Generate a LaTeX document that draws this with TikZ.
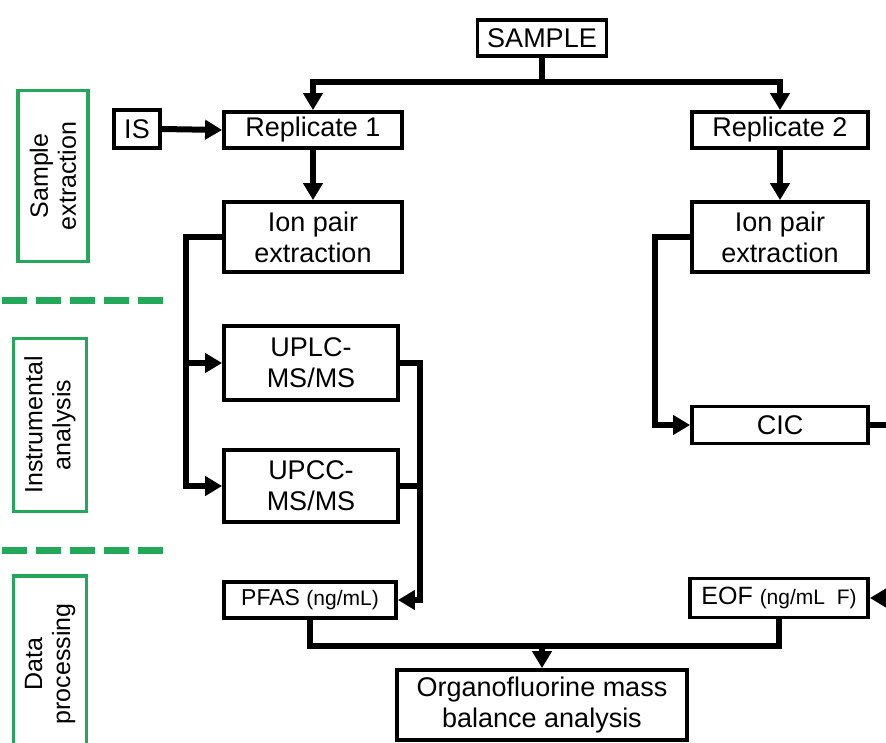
\documentclass[tikz,border=0pt]{standalone}
\usepackage{fontspec}
\setmainfont{Liberation Sans}
\usetikzlibrary{arrows.meta}
\definecolor{lblgreen}{RGB}{34,168,88}
\tikzset{
  box/.style={draw=black, line width=3.8pt, rectangle, inner sep=0pt, align=center,
    font=\fontsize{27}{31}\selectfont, text=black},
  gbox/.style={draw=lblgreen, line width=3.8pt, rectangle, inner sep=0pt, align=center,
    font=\fontsize{25}{28}\selectfont, rotate=90},
  conn/.style={line width=6pt, draw=black},
  arr/.style={conn, -{Triangle[length=17pt,width=19pt]}},
  gdash/.style={draw=lblgreen, line width=7pt, dash pattern=on 25pt off 9pt},
}
\newcommand{\smalltxt}{\fontsize{21}{24}\selectfont}
\begin{document}
\begin{tikzpicture}[x=1pt,y=-1pt]
\useasboundingbox (0,0) rectangle (886,742);
% section labels
\node[gbox, minimum width=171pt, minimum height=70pt] (g1) at (53,176) {Sample\\extraction};
\node[gbox, minimum width=173pt, minimum height=73pt] (g2) at (50,425) {Instrumental\\analysis};
\node[gbox, minimum width=176pt, minimum height=73pt] (g3) at (50,664) {Data\\processing};
\draw[gdash] (2,300) -- (170,300);
\draw[gdash] (2,550) -- (170,550);
% nodes
\node[box, minimum width=129pt, minimum height=36pt] (sample) at (542,38) {SAMPLE};
\node[box, minimum width=46pt, minimum height=38pt] (is) at (137,129) {IS};
\node[box, minimum width=178pt, minimum height=36pt] (rep1) at (313,130) {Replicate 1};
\node[box, minimum width=176pt, minimum height=36pt] (rep2) at (780,130) {Replicate 2};
\node[box, minimum width=178pt, minimum height=70pt] (ion1) at (313,237) {Ion pair\\extraction};
\node[box, minimum width=176pt, minimum height=70pt] (ion2) at (780,237) {Ion pair\\extraction};
\node[box, minimum width=174pt, minimum height=74pt] (uplc) at (311,363) {UPLC-\\MS/MS};
\node[box, minimum width=174pt, minimum height=72pt] (upcc) at (311,486) {UPCC-\\MS/MS};
\node[box, minimum width=176pt, minimum height=37pt] (cic) at (780,425) {CIC};
\node[box, minimum width=172pt, minimum height=36pt, font=\fontsize{23}{27}\selectfont] (pfas) at (310,600) {PFAS {\smalltxt (ng/mL)}};
\node[box, minimum width=178pt, minimum height=39pt, font=\fontsize{25}{29}\selectfont] (eof) at (779,598) {EOF {\smalltxt (ng/mL\ \ F)}};
\node[box, minimum width=290pt, minimum height=70pt] (org) at (542,705) {Organofluorine mass\\balance analysis};
% connectors
\coordinate (top) at (542,82);
\draw[conn] (sample.south) -- (top);
\draw[arr] (top) -| (rep1.north);
\draw[arr] (top) -| (rep2.north);
\draw[arr] (is.east) -- (rep1.west);
\draw[arr] (rep1.south) -- (ion1.north);
\draw[arr] (rep2.south) -- (ion2.north);
\coordinate (b1) at (186,237);
\draw[arr] (ion1.west) -- (b1) |- (upcc.west);
\draw[arr] (b1 |- uplc.west) -- (uplc.west);
\coordinate (b2) at (420,363);
\draw[arr] (uplc.east) -- (b2) |- (pfas.east);
\draw[conn] (upcc.east) -- (upcc.east -| b2);
\coordinate (b3) at (655,237);
\draw[arr] (ion2.west) -- (b3) |- (cic.west);
\coordinate (cicout) at (886,425);
\draw[conn] (cic.east) -- (cicout);
\coordinate (eofin) at (886,598);
\draw[arr] (eofin) -- (eof.east);
\coordinate (bot) at (542,646);
\draw[conn] (pfas.south) |- (bot) -| (eof.south);
\draw[arr] (bot) -- (org.north);
\end{tikzpicture}
\end{document}
